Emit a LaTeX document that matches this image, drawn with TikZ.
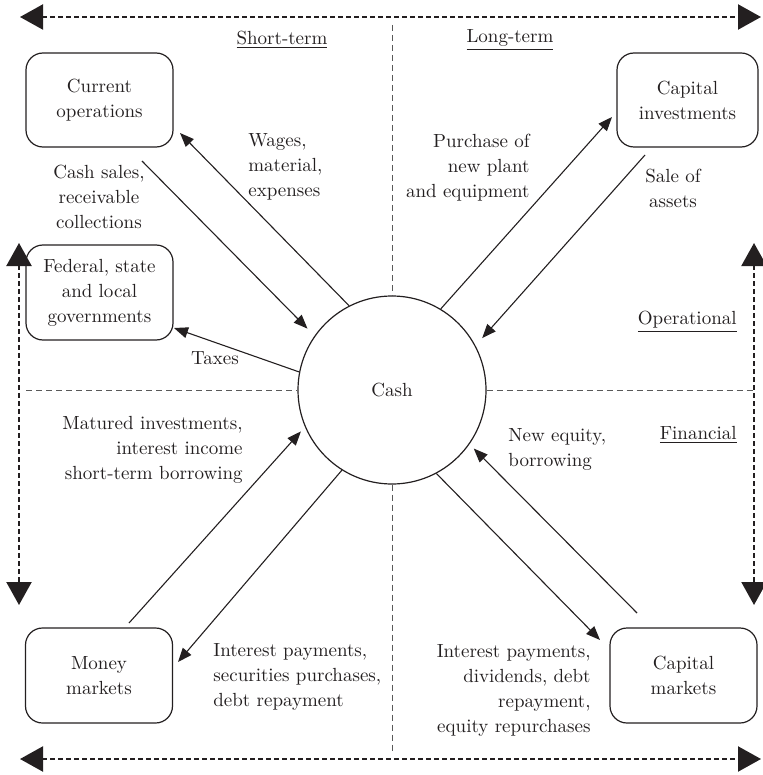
\documentclass[tikz,border=0pt]{standalone}
\usepackage{tikz}
\usetikzlibrary{arrows.meta}
\definecolor{ink}{RGB}{35,31,32}

\begin{document}
\begin{tikzpicture}[x=0.5pt,y=-0.5pt,
    font=\fontsize{9.5}{12.5}\selectfont,text=ink,
    box/.style={draw=ink,line width=0.6pt,rounded corners=8.5pt,
                minimum width=73.5pt,minimum height=47pt,
                inner sep=0pt,align=center},
    lbl/.style={inner sep=0pt,align=center},
    flow/.style={draw=ink,line width=0.55pt,-{Triangle[length=7pt,width=5.5pt]}},
    span/.style={draw=ink,line width=1.1pt,dash pattern=on 2.3pt off 1.7pt,
                 {Triangle[length=11.5pt,width=12.5pt]}-{Triangle[length=11.5pt,width=12.5pt]}},
    divider/.style={draw=black!65,line width=0.5pt,dash pattern=on 3pt off 2pt}]
    \useasboundingbox (0,0) rectangle (762,775);

    % centre and the five partners
    \node[circle,draw=ink,line width=0.6pt,minimum size=94pt,inner sep=0pt] (cash) at (392,390) {Cash};
    \node[box] (curop)  at (99.5,100)  {Current\\operations};
    \node[box,minimum width=70.5pt] (capinv) at (687.5,100) {Capital\\investments};
    \node[box,minimum height=47.5pt] (gov) at (99.5,292.5) {Federal, state\\and local\\governments};
    \node[box,minimum height=47.5pt] (money)  at (99,675.5)  {Money\\markets};
    \node[box,minimum height=47.5pt] (capmkt) at (683.5,675.5) {Capital\\markets};

    % quadrant titles
    \node[lbl] (shortterm) at (282,40) {\underline{Short-term}};
    \node[lbl] (longterm)  at (510,40) {\underline{Long-term}};
    \node[lbl,anchor=east] (oper) at (737,322) {\underline{Operational}};
    \node[lbl,anchor=east] (fin)  at (737,435) {\underline{Financial}};

    % flow labels
    \node[lbl,anchor=west,align=left]  (wages)  at (248,167) {Wages,\\material,\\expenses};
    \node[lbl] (sales) at (99,197) {Cash sales,\\receivable\\collections};
    \node[lbl,anchor=east,align=right] (buy)    at (530,168) {Purchase of\\new plant\\and equipment};
    \node[lbl] (sell)  at (673,188) {Sale of\\assets};
    \node[lbl] (taxes) at (215,358) {Taxes};
    \node[lbl,anchor=east,align=right] (mature) at (243,450) {Matured investments,\\interest income\\short-term borrowing};
    \node[lbl,anchor=west,align=left]  (equity) at (508,449) {New equity,\\borrowing};
    \node[lbl,anchor=west,align=left]  (paysec) at (213,677) {Interest payments,\\securities purchases,\\debt repayment};
    \node[lbl,anchor=east,align=right] (paydiv) at (591,690) {Interest payments,\\dividends, debt\\repayment,\\equity repurchases};

    % free ends of the flows
    \coordinate (wagestip)   at (180,133);
    \coordinate (salesfrom)  at (142,161);
    \coordinate (buytip)     at (612,117);
    \coordinate (sellfrom)   at (645,155);
    \coordinate (taxtip)     at (174,328);
    \coordinate (maturefrom) at (129,623);
    \coordinate (moneytip)   at (178,662);
    \coordinate (equityfrom) at (637,613);
    \coordinate (capmkttip)  at (600,640);

    \foreach \a/\b in {117/wagestip,59/buytip,169/taxtip,238/moneytip,298/capmkttip}
      \draw[flow] (cash.\a) -- (\b);
    \foreach \a/\b/\s in {salesfrom/145/5pt,sellfrom/28/5pt,maturefrom/203/3pt,equityfrom/325/3pt}
      \draw[flow,shorten >=\s] (\a) -- (cash.\b);

    % quadrant dividers
    \coordinate (hl) at (26,390);
    \coordinate (hr) at (754,390);
    \coordinate (vt) at (392,25);
    \coordinate (vb) at (392,752);
    \draw[divider] (hl) -- (cash.west) (cash.east) -- (hr)
                   (vt) -- (cash.north) (cash.south) -- (vb);

    % outer double arrows
    \coordinate (tl) at (20,17);   \coordinate (tr) at (761,17);
    \coordinate (bl) at (20,759);  \coordinate (br) at (761,759);
    \coordinate (lu) at (19,243);  \coordinate (ld) at (19,605);
    \coordinate (ru) at (754,243); \coordinate (rd) at (754,605);
    \foreach \a/\b in {tl/tr,bl/br,lu/ld,ru/rd}
      \draw[span] (\a) -- (\b);
\end{tikzpicture}
\end{document}
